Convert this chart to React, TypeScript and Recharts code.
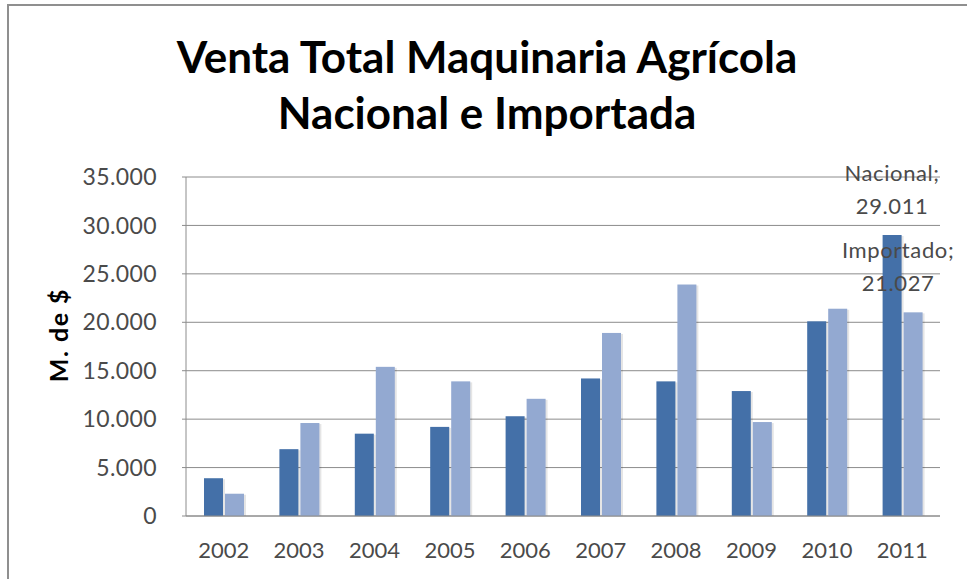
import { Bar, BarChart, CartesianGrid, LabelList, XAxis, YAxis } from "recharts";

const years = ["2002", "2003", "2004", "2005", "2006", "2007", "2008", "2009", "2010", "2011"];
const nacional = [3900, 6900, 8500, 9200, 10300, 14200, 13900, 12900, 20100, 29011];
const importado = [2300, 9600, 15400, 13900, 12100, 18900, 23900, 9700, 21400, 21027];
const yTicks = [0, 5000, 10000, 15000, 20000, 25000, 30000, 35000];

const data = years.map((y, i) => ({ year: y, nacional: nacional[i], importado: importado[i] }));

const FONT = "Lato, 'DejaVu Sans', sans-serif";
const TEXT = "#4a4a4a";
const GRID = "#8c8c8c";

function fmt(v: number) {
  return String(v).replace(/\B(?=(\d{3})+(?!\d))/g, ".");
}

// only the last year carries a data label, as in the original
function lastLabel(name: string, dx: number) {
  return (props: any) => {
    const { x, y, width, index, value } = props;
    if (index !== years.length - 1) return null;
    const cx = Number(x) + Number(width) / 2 + dx;
    const top = Number(y);
    return (
      <text x={cx} textAnchor="middle" fill={TEXT} fontSize={22} fontFamily={FONT} letterSpacing={0.6}>
        <tspan x={cx} y={top - 54}>{name};</tspan>
        <tspan x={cx} y={top - 21}>{fmt(Number(value))}</tspan>
      </text>
    );
  };
}

// bars get the faint drop shadow of the original
function ShadowBar(props: any) {
  const { x, y, width, height, fill } = props;
  if (!height || height <= 0) return null;
  return (
    <g>
      <rect x={x + 2} y={y + 1} width={width} height={height - 1} fill="rgba(0,0,0,0.10)" />
      <rect x={x} y={y} width={width} height={height} fill={fill} />
    </g>
  );
}

function YLabel() {
  return (
    <text
      x={58}
      y={335}
      transform="rotate(-90 58 335)"
      textAnchor="middle"
      dominantBaseline="central"
      fill="#000"
      fontSize={25}
      fontWeight="bold"
      fontFamily={FONT}
      letterSpacing={1.5}
    >
      M. de $
    </text>
  );
}

export default function App() {
  return (
    <div style={{ position: "fixed", left: 0, top: 0, width: 967, height: 579, background: "#fff", overflow: "hidden" }}>
      <div style={{ position: "absolute", left: 7, top: 4, width: 960, height: 2, background: "#8f8f8f" }} />
      <div style={{ position: "absolute", left: 7, top: 4, width: 2, height: 575, background: "#8f8f8f" }} />
      <div
        style={{
          position: "absolute",
          left: 0,
          width: 974,
          top: 28,
          textAlign: "center",
          fontFamily: FONT,
          fontWeight: "bold",
          fontSize: 44,
          lineHeight: "56px",
          color: "#000",
        }}
      >
        Venta Total Maquinaria Agrícola
        <br />
        Nacional e Importada
      </div>
      <div style={{ position: "absolute", left: 0, top: 0 }}>
        <BarChart
          width={967}
          height={579}
          data={data}
          margin={{ top: 177, right: 27, bottom: 23, left: 0 }}
          barCategoryGap={18}
          barGap={2}
        >
          <CartesianGrid vertical={false} stroke={GRID} strokeWidth={1} />
          <XAxis
            dataKey="year"
            height={40}
            tickLine={false}
            tickSize={0}
            tickMargin={26}
            axisLine={{ stroke: GRID }}
            tick={{ fill: TEXT, fontSize: 22, fontFamily: FONT }}
          />
          <YAxis
            width={186}
            domain={[0, 35000]}
            ticks={yTicks}
            interval={0}
            tickFormatter={fmt}
            tickSize={4}
            tickMargin={25}
            tickLine={{ stroke: GRID }}
            axisLine={{ stroke: GRID }}
            tick={{ fill: TEXT, fontSize: 23, fontFamily: FONT, letterSpacing: 0.4 }}
            label={<YLabel />}
          />
          <Bar dataKey="nacional" name="Nacional" fill="#4470a8" shape={ShadowBar} isAnimationActive={false}>
            <LabelList dataKey="nacional" content={lastLabel("Nacional", 0)} />
          </Bar>
          <Bar dataKey="importado" name="Importado" fill="#93a9d1" shape={ShadowBar} isAnimationActive={false}>
            <LabelList dataKey="importado" content={lastLabel("Importado", -15)} />
          </Bar>
        </BarChart>
      </div>
    </div>
  );
}
